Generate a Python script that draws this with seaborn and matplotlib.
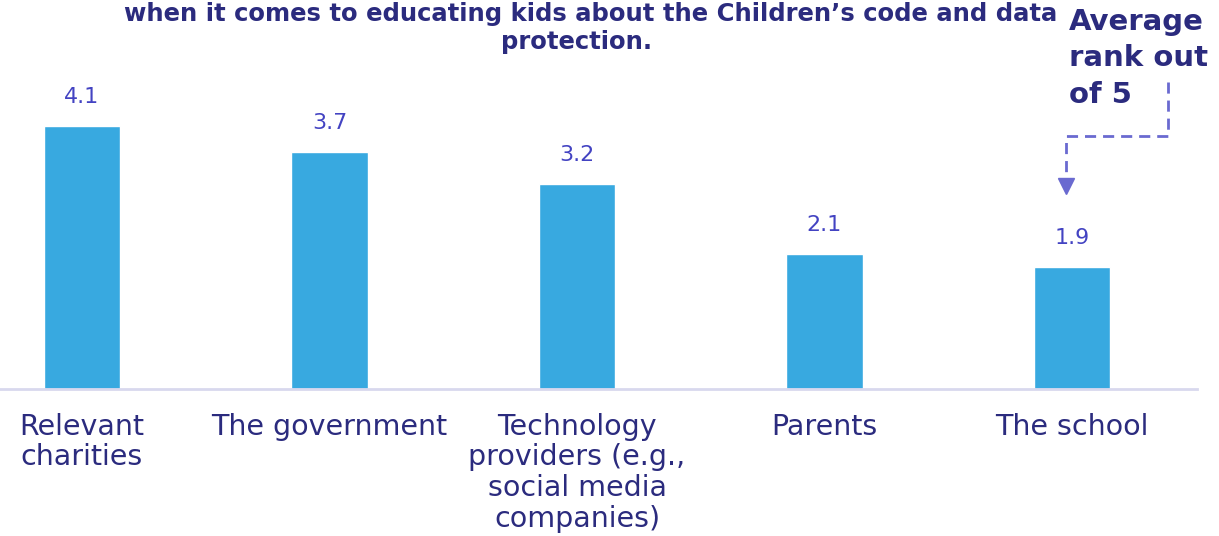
import matplotlib
matplotlib.use("Agg")
import matplotlib.pyplot as plt
import seaborn as sns
import pandas as pd

categories = ["Relevant\ncharities", "The government",
              "Technology\nproviders (e.g.,\nsocial media\ncompanies)",
              "Parents", "The school"]
avg_rank = [4.1, 3.7, 3.2, 2.1, 1.9]
title_line1 = "when it comes to educating kids about the Children\u2019s code and data"
title_line2 = "protection."
note_text = "Average\nrank out\nof 5"

BAR = "#38A9E0"
NAVY = "#2B2B7E"
VALUE = "#4343C2"
ARROW = "#6A6AD0"

sns.set_theme(style="white")
plt.rcParams["font.family"] = ["DejaVu Sans"]

df = pd.DataFrame({"cat": categories, "rank": avg_rank})

W, H = 1219, 536
fig = plt.figure(figsize=(W / 100, H / 100), dpi=100)
ax = fig.add_axes([0 / W, (H - 389) / H, 1197 / W, (5 * 64.1) / H])

sns.barplot(data=df, x="cat", y="rank", color=BAR, width=0.311,
            saturation=1, ax=ax)

ax.set_xlim(-82 / 247.5, (1197 - 82) / 247.5)
ax.set_ylim(0, 5)
ax.set_xlabel("")
ax.set_ylabel("")
ax.set_yticks([])
for side in ["top", "right", "left"]:
    ax.spines[side].set_visible(False)
ax.spines["bottom"].set_color("#D8D8EE")
ax.spines["bottom"].set_linewidth(2)
ax.tick_params(axis="x", length=0, pad=17, labelsize=20.5, labelcolor=NAVY)
for lbl in ax.get_xticklabels():
    lbl.set_linespacing(1.13)
    lbl.set_verticalalignment("top")

for i, v in enumerate(avg_rank):
    ax.annotate(f"{v}", (i, v), xytext=(0, 21), textcoords="offset points",
                ha="center", va="center", fontsize=16, color=VALUE)

fig.text(591 / W, 1 - 14 / H, title_line1, ha="center", va="center",
         fontsize=17.5, fontweight="bold", color=NAVY)
fig.text(577 / W, 1 - 42 / H, title_line2, ha="center", va="center",
         fontsize=17.5, fontweight="bold", color=NAVY)

fig.text(1069 / W, 1 - 8 / H, note_text, ha="left", va="top",
         fontsize=21, fontweight="bold", color=NAVY, linespacing=1.38)

# dashed elbow connector pointing down to the last bar's label
xs = [1168 / W, 1168 / W, 1066 / W, 1066 / W]
ys = [1 - 82 / H, 1 - 136 / H, 1 - 136 / H, 1 - 176 / H]
fig.add_artist(plt.Line2D(xs, ys, transform=fig.transFigure, color=ARROW,
                          lw=2, linestyle=(0, (4, 2.5))))
fig.add_artist(plt.Line2D([1066 / W], [1 - 186 / H], transform=fig.transFigure,
                          marker="v", markersize=11, color=ARROW, linestyle="none"))

fig.savefig("out.png", dpi=100)
